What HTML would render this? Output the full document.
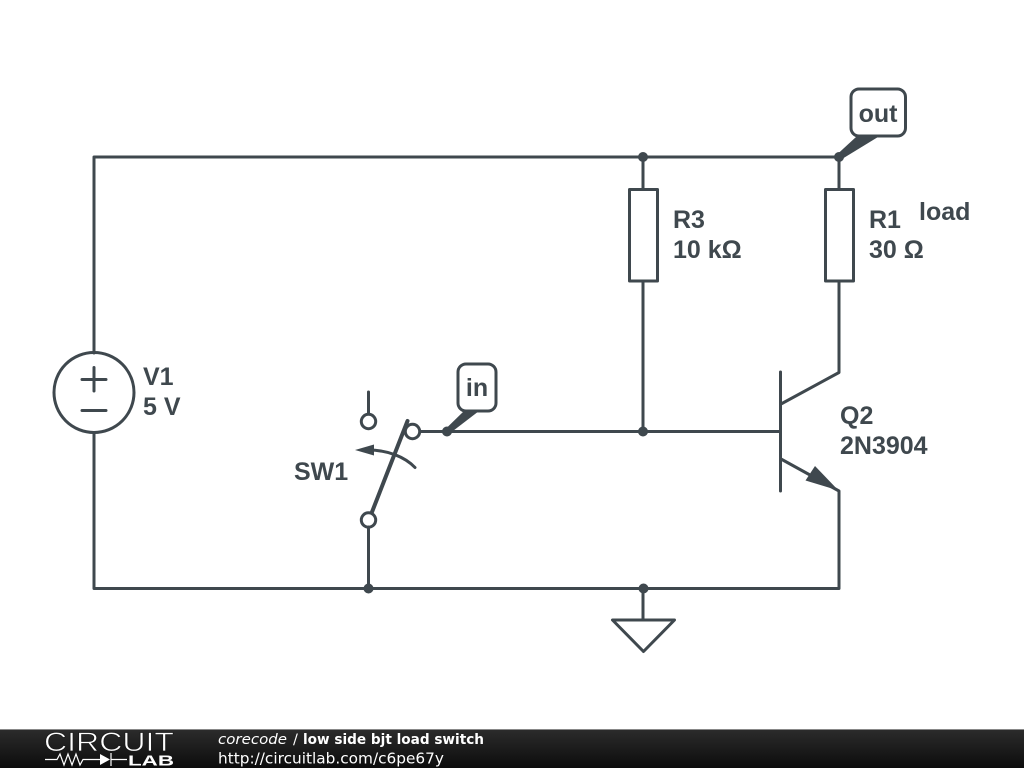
<!DOCTYPE html>
<html><head><meta charset="utf-8"><style>
html,body{margin:0;padding:0;background:#fff;width:1024px;height:768px;overflow:hidden}
svg{display:block}
</style></head><body>
<svg width="1024" height="768" viewBox="0 0 1024 768" xmlns="http://www.w3.org/2000/svg">
<defs><linearGradient id="g" x1="0" y1="0" x2="0" y2="1"><stop offset="0" stop-color="#2c2c2c"/><stop offset="1" stop-color="#0c0c0c"/></linearGradient></defs>
<rect width="1024" height="768" fill="#fff"/>
<g fill="none" stroke="#3f484e" stroke-width="3" stroke-linecap="round" stroke-linejoin="round">
<path d="M94 353V157H839V189M839 281V372.5L781 404M781 459L839 491V588.5H94V432.5"/>
<path d="M643 157V189M643 281V431.5M643 588.5V619"/>
<rect x="629.5" y="189.5" width="28" height="91.5"/>
<rect x="825.5" y="189.5" width="28" height="91.5"/>
<circle cx="94" cy="392.5" r="40"/>
<path d="M82 379.500H106M94 367.500V391M82 410.500H106" stroke-width="3"/>
<path d="M780.500 372V491" />
<path d="M420 431.500H780"/>
<path d="M612.500 620H674.500L643.500 651.500Z"/>
<path d="M368.500 392V414M368.500 527V588"/>
<circle cx="368.500" cy="421.500" r="7.200"/>
<circle cx="368.500" cy="520" r="7.200"/>
<circle cx="412.500" cy="431.500" r="7.200"/>
<path d="M372 512L407.500 421" stroke-width="4"/>
<path d="M415 467.500C405 457 388 450 368 450" stroke-width="3"/>
<rect x="458" y="364" width="38" height="47" rx="8" fill="#fff"/>
<rect x="851" y="89" width="54.500" height="47" rx="8" fill="#fff"/>
</g>
<g fill="#3f484e">
<path d="M445 429.500L464 411H479L449 434Z"/>
<path d="M837 154.500L856 137H878L842 159Z"/>
<path d="M838.500 490.500L815 466L805.500 480.500Z"/>
<path d="M355 450L374 444.500V455.500Z"/>
<circle cx="643" cy="157" r="5"/>
<circle cx="839" cy="157" r="5"/>
<circle cx="643" cy="431.500" r="5"/>
<circle cx="447" cy="431.500" r="5"/>
<circle cx="368.500" cy="588.500" r="5"/>
<circle cx="643.500" cy="588.500" r="5"/>
</g>
<g font-family="'Liberation Sans',sans-serif" font-weight="700" font-size="25px" fill="#3f484e">
<text x="673" y="228">R3</text>
<text x="673" y="258">10 kΩ</text>
<text x="869" y="228">R1</text>
<text x="869" y="258">30 Ω</text>
<text x="919" y="220">load</text>
<text x="143" y="385">V1</text>
<text x="143" y="415">5 V</text>
<text x="840" y="424">Q2</text>
<text x="840" y="454">2N3904</text>
<text x="294" y="480">SW1</text>
<text x="477" y="396" text-anchor="middle">in</text>
<text x="878" y="122" text-anchor="middle">out</text>
</g>
<rect x="0" y="729" width="1024" height="39" fill="url(#g)"/>
<rect x="0" y="729" width="1024" height="1" fill="#888"/>
<g fill="#fff" stroke="none">
<text x="44" y="751" font-family="'Liberation Sans',sans-serif" font-size="26.500px" textLength="130" lengthAdjust="spacingAndGlyphs" stroke="#1a1a1a" stroke-width="0.7">CIRCUIT</text>
<text x="128" y="765.500" font-family="'Liberation Sans',sans-serif" font-weight="700" font-size="14.500px" textLength="46" lengthAdjust="spacingAndGlyphs">LAB</text>
<path d="M100 754V765L110 759.500Z"/>
</g>
<path d="M45 759.500H57L60 754L64 765L68 754L72 765L76 754L80 765L83 759.500H100M111 759.500H127M111 753V766" fill="none" stroke="#fff" stroke-width="1.200"/>
<g font-family="'DejaVu Sans',sans-serif" fill="#fff">
<text x="218" y="744" font-size="14.500px" font-style="italic" textLength="69" lengthAdjust="spacingAndGlyphs">corecode</text>
<text x="293" y="744" font-size="14.500px">/</text>
<text x="303" y="744" font-size="14px" font-weight="700" textLength="181" lengthAdjust="spacingAndGlyphs">low side bjt load switch</text>
<text x="218" y="763.500" font-size="15.300px" textLength="226" lengthAdjust="spacingAndGlyphs">http://circuitlab.com/c6pe67y</text>
</g>
</svg>
</body></html>
